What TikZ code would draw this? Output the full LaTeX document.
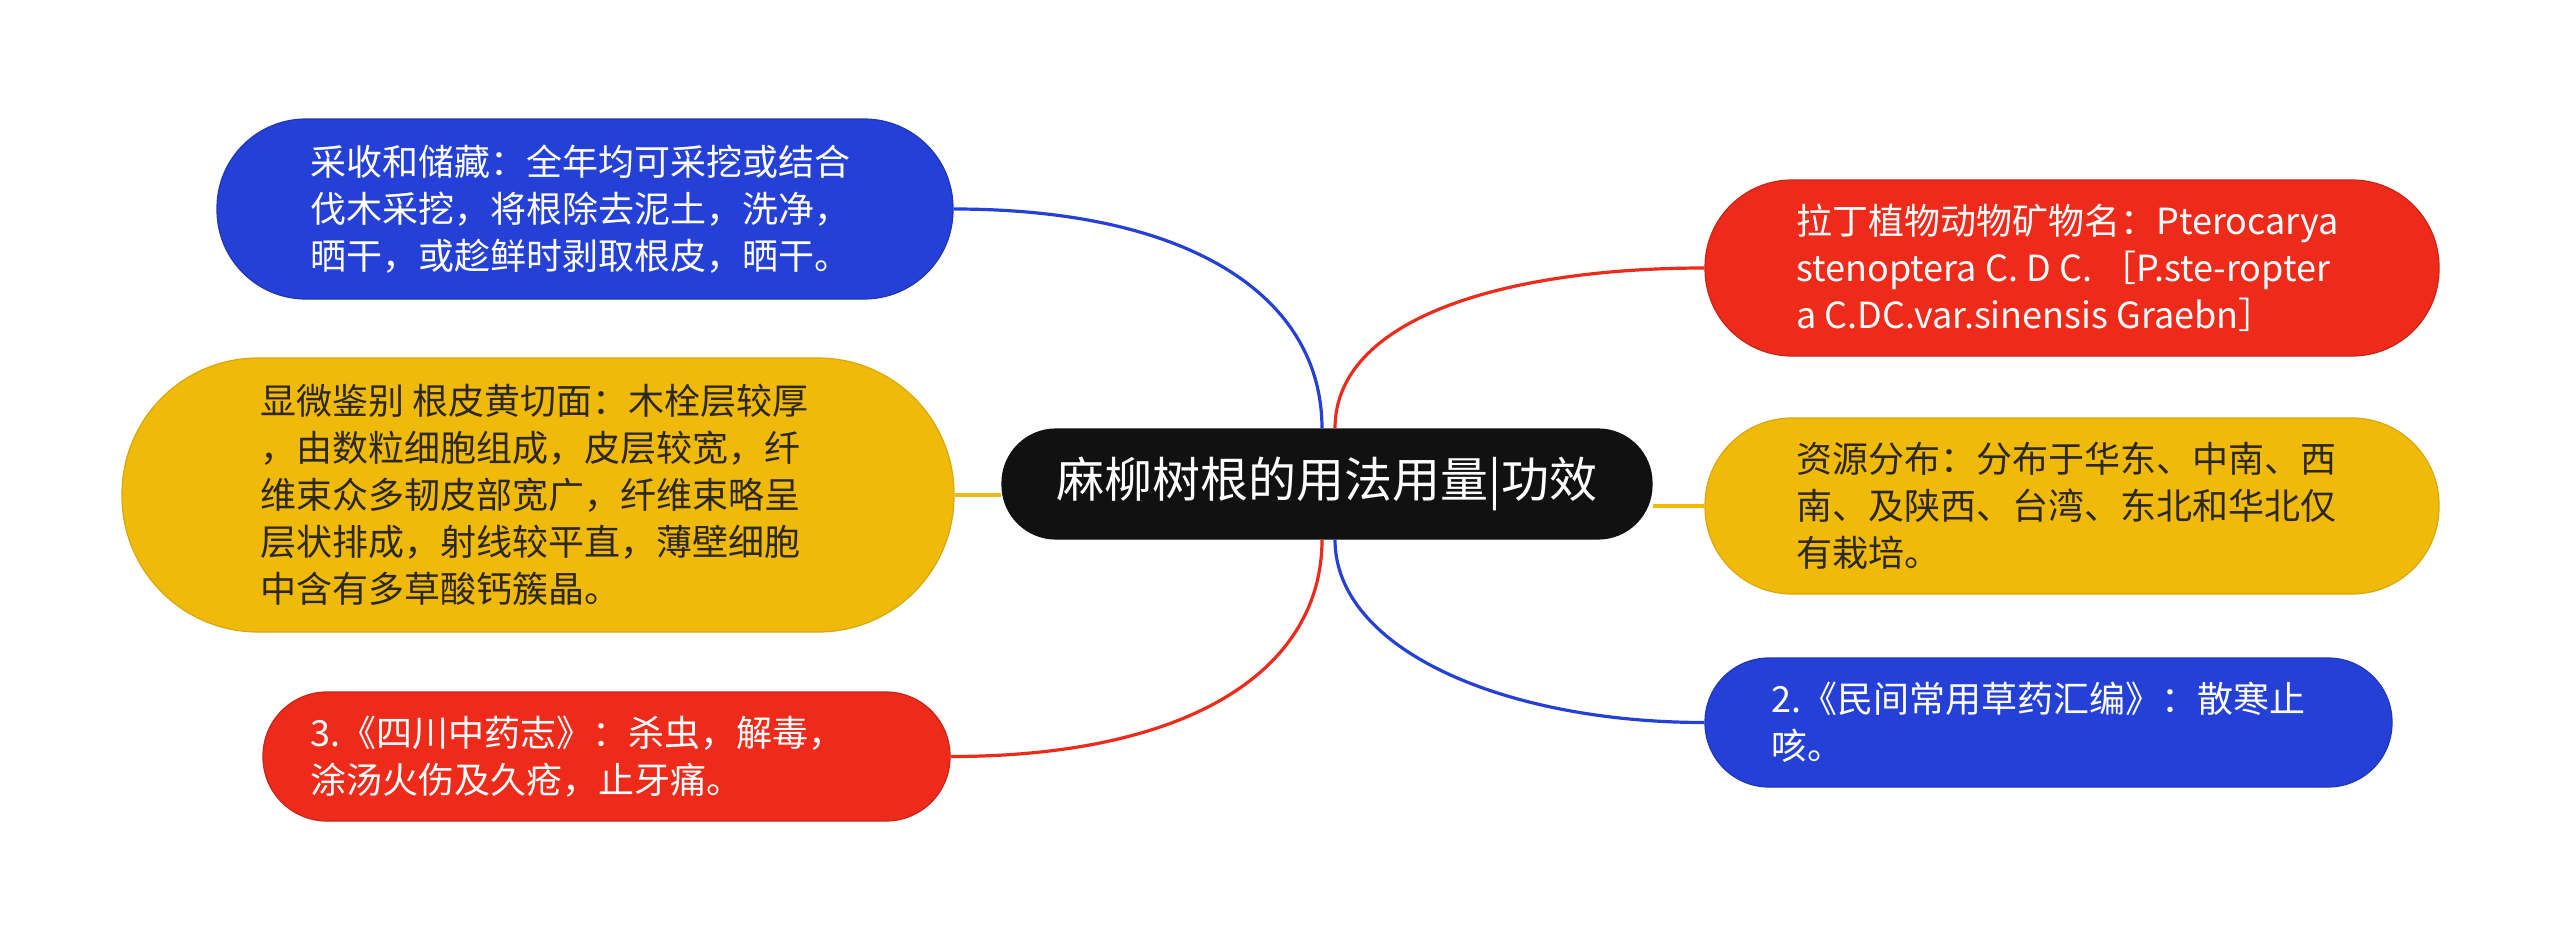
\documentclass[tikz,border=0pt]{standalone}
\usepackage{fontspec}
\setmainfont{Noto Sans CJK SC}
\usetikzlibrary{calc}
\definecolor{mblue}{RGB}{37,64,214}
\definecolor{mred}{RGB}{238,42,26}
\definecolor{myellow}{RGB}{240,186,10}
\definecolor{mblack}{RGB}{17,17,17}
\definecolor{mdark}{RGB}{45,40,30}
\begin{document}
\begin{tikzpicture}[x=0.5pt,y=-0.5pt,
  box/.style={rectangle, inner sep=0pt, line width=0.6pt},
  txt/.style={anchor=west, inner sep=0pt, align=left, font=\fontsize{18}{23.5}\selectfont},
  link/.style={line width=1.6pt}]
\useasboundingbox (0,0) rectangle (2560,943);
% centre
\node[box, fill=mblack, draw=mblack, minimum width=325pt, minimum height=55pt, rounded corners=27pt] (c) at (1327,484) {};
\node[inner sep=0pt, text=white, font=\fontsize{24}{28}\selectfont] (ct) at (1327,484) {麻柳树根的用法用量|功效};
% left boxes
\node[box, fill=mblue, draw=mblue!85!black, minimum width=368pt, minimum height=90pt, rounded corners=44.5pt] (n1) at (585,209) {};
\node[txt, text=white] (n1t) at (310,209) {采收和储藏：全年均可采挖或结合\\伐木采挖，将根除去泥土，洗净，\\晒干，或趁鲜时剥取根皮，晒干。};
\node[box, fill=myellow, draw=myellow!90!black, minimum width=416pt, minimum height=137pt, rounded corners=68pt] (n2) at (538,495) {};
\node[txt, text=mdark] (n2t) at (260,495) {显微鉴别 根皮黄切面：木栓层较厚\\，由数粒细胞组成，皮层较宽，纤\\维束众多韧皮部宽广，纤维束略呈\\层状排成，射线较平直，薄壁细胞\\中含有多草酸钙簇晶。};
\node[box, fill=mred, draw=mred!85!black, minimum width=343.5pt, minimum height=64.5pt, rounded corners=32pt] (n3) at (606.5,756.5) {};
\node[txt, text=white] (n3t) at (310,756.5) {3.《四川中药志》：杀虫，解毒，\\涂汤火伤及久疮，止牙痛。};
% right boxes
\node[box, fill=mred, draw=mred!85!black, minimum width=367pt, minimum height=88pt, rounded corners=43.5pt] (n4) at (2072,268) {};
\node[txt, text=white] (n4t) at (1796,268) {拉丁植物动物矿物名：Pterocarya\\stenoptera C. D C. ［P.ste-ropter\\a C.DC.var.sinensis Graebn］};
\node[box, fill=myellow, draw=myellow!90!black, minimum width=367pt, minimum height=88pt, rounded corners=43.5pt] (n5) at (2072,506) {};
\node[txt, text=mdark] (n5t) at (1796,506) {资源分布：分布于华东、中南、西\\南、及陕西、台湾、东北和华北仅\\有栽培。};
\node[box, fill=mblue, draw=mblue!85!black, minimum width=343.5pt, minimum height=64.5pt, rounded corners=32pt] (n6) at (2048.5,722.5) {};
\node[txt, text=white] (n6t) at (1771,722.5) {2.《民间常用草药汇编》：散寒止\\咳。};
% connectors
\draw[link, mblue] (n1.east) .. controls +(240,0) and +(0,-130) .. ($(c.north)+(-5,0)$);
\draw[link, myellow] (n2.east) -- (n2.east -| c.west);
\draw[link, mred] ($(c.south)+(-5,0)$) .. controls +(0,130) and +(240,0) .. (n3.east);
\draw[link, mred] ($(c.north)+(8,0)$) .. controls +(0,-110) and +(-200,0) .. (n4.west);
\draw[link, myellow] (n5.west -| c.east) -- (n5.west);
\draw[link, mblue] ($(c.south)+(8,0)$) .. controls +(0,110) and +(-200,0) .. (n6.west);
\end{tikzpicture}
\end{document}
